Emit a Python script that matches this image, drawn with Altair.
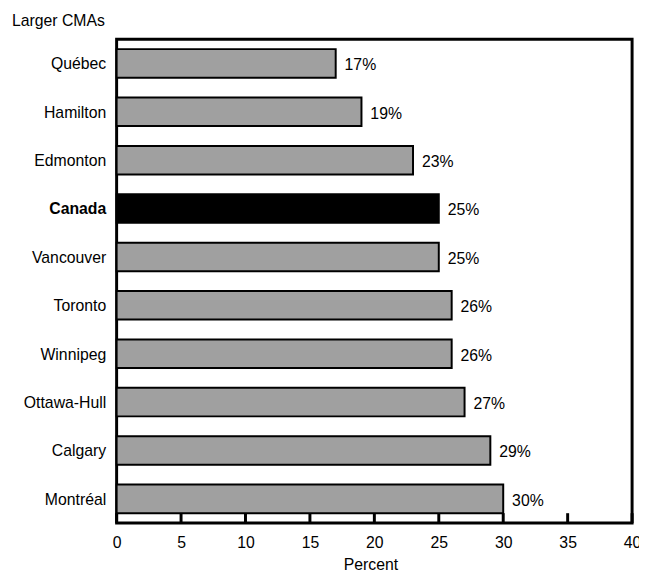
import altair as alt
import pandas as pd

cities = ["Québec", "Hamilton", "Edmonton", "Canada", "Vancouver", "Toronto",
          "Winnipeg", "Ottawa-Hull", "Calgary", "Montréal"]
values = [17, 19, 23, 25, 25, 26, 26, 27, 29, 30]
ticks = [0, 5, 10, 15, 20, 25, 30, 35, 40]

df = pd.DataFrame({"city": cities, "value": values})
df["label"] = [f"{v}%" for v in values]
df["isCanada"] = [c == "Canada" for c in cities]
tick_df = pd.DataFrame({"t": ticks})

FONT = "Liberation Sans"
FS = 16

xscale = alt.Scale(domain=[0, 40], nice=False)
yscale = alt.Scale(domain=cities, paddingInner=0.41, paddingOuter=0.205)

base = alt.Chart(df)

bars = base.mark_bar(stroke="black", strokeWidth=2).encode(
    x=alt.X("value:Q", scale=xscale,
            axis=alt.Axis(values=ticks, title="Percent", grid=False, tickSize=0,
                          labelPadding=12, domain=False,
                          labelFont=FONT, labelFontSize=FS, titleFont=FONT,
                          titleFontSize=FS, titleFontWeight="normal",
                          titleX=257, titleY=47, titleAlign="center",
                          titleBaseline="alphabetic",
                          labelColor="black", titleColor="black",
                          labelOverlap=False, labelFlush=False)),
    y=alt.Y("city:N", scale=yscale, sort=cities,
            axis=alt.Axis(title=None, ticks=False, domain=False, labelPadding=11,
                          labelOffset=1,
                          labelFont=FONT, labelFontSize=FS, labelColor="black",
                          labelFontWeight=alt.ExprRef(expr="datum.value == 'Canada' ? 'bold' : 'normal'"))),
    fill=alt.condition("datum.isCanada", alt.value("black"), alt.value("#a0a0a0")),
)

texts = base.mark_text(align="left", baseline="middle", dx=9, dy=2,
                       font=FONT, fontSize=FS, color="black").encode(
    x=alt.X("value:Q", scale=xscale),
    y=alt.Y("city:N", scale=yscale, sort=cities),
    text="label:N",
)

tickmarks = alt.Chart(tick_df).mark_rule(color="black", strokeWidth=3).encode(
    x=alt.X("t:Q", scale=xscale),
    y=alt.value(480),
    y2=alt.value(490),
)

chart = alt.layer(bars, texts, tickmarks).properties(
    width=522, height=490,
    title=alt.TitleParams("Larger CMAs", anchor="start", frame="group", dx=-106, offset=10,
                          font=FONT, fontSize=FS, fontWeight="normal", color="black"),
    autosize=alt.AutoSizeParams(type="none"),
    padding={"left": 110, "top": 28, "right": 7, "bottom": 50},
).configure_view(stroke="black", strokeWidth=3)

chart.save("out.html", embed_options={"renderer": "svg", "actions": False})
